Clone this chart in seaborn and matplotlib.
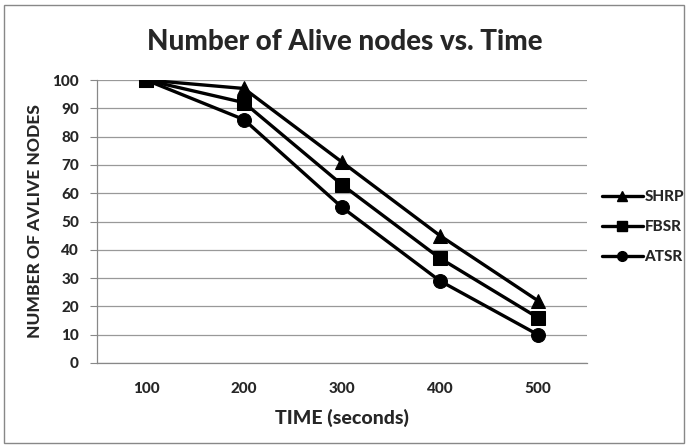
import matplotlib
matplotlib.use("Agg")
import matplotlib.pyplot as plt
import seaborn as sns
import pandas as pd
from matplotlib.patches import Rectangle
from matplotlib.lines import Line2D

times = ["100", "200", "300", "400", "500"]
shrp = [100, 97, 71, 45, 22]
fbsr = [100, 92, 63, 37, 16]
atsr = [100, 86, 55, 29, 10]
series_names = ["SHRP", "FBSR", "ATSR"]
yticks = list(range(0, 101, 10))

df = pd.concat([
    pd.DataFrame({"time": times, "nodes": v, "series": n})
    for n, v in zip(series_names, [shrp, fbsr, atsr])
])

sns.set_style("white")
plt.rcParams["font.family"] = ["Lato", "DejaVu Sans"]
W = 900
plt.rcParams["font.weight"] = W

fig = plt.figure(figsize=(6.89, 4.48), dpi=100)
ax = fig.add_axes([97/689, 1-363/448, 490/689, 283/448])

markers = {"SHRP": "^", "FBSR": "s", "ATSR": "o"}
sns.lineplot(data=df, x="time", y="nodes", style="series", markers=markers,
             dashes=False, color="black", linewidth=2.4, markersize=10,
             markeredgecolor="black", ax=ax, legend=False, sort=False)

ax.set_ylim(0, 100)
ax.set_xlim(-0.5, 4.5)
ax.set_yticks(yticks)
ax.set_yticklabels([str(t) for t in yticks], fontsize=11, fontweight=W)
ax.set_xticks(range(len(times)))
ax.set_xticklabels(times, fontsize=11, fontweight=W)
ax.tick_params(axis="x", which="major", length=0, pad=14)
ax.set_xticks([i - 0.5 for i in range(len(times) + 1)], minor=True)
ax.tick_params(axis="x", which="minor", length=5, color="#888888", direction="out")
ax.tick_params(axis="y", length=5, color="#888888", direction="out", pad=8, left=True)
ax.yaxis.grid(True, color="#999999", linewidth=0.9)
ax.set_axisbelow(True)
for s in ["top", "right"]:
    ax.spines[s].set_visible(False)
for s in ["left", "bottom"]:
    ax.spines[s].set_color("#888888")
    ax.spines[s].set_linewidth(0.9)

ax.set_xlabel("TIME (seconds)", fontsize=14, fontweight=W, labelpad=9)
ax.set_ylabel("NUMBER OF AVLIVE NODES", fontsize=12.5, fontweight=W, labelpad=7)

fig.text(0.5, 1-42/448, "Number of Alive nodes vs. Time", ha="center", va="center",
         fontsize=20, fontweight=W)

handles = [Line2D([], [], color="black", linewidth=2.4, marker=markers[n],
                  markersize=7) for n in series_names]
fig.legend(handles, series_names, loc="center left", bbox_to_anchor=(588/689, 1-227/448),
           frameon=False, handlelength=2.7, handletextpad=0.1, labelspacing=1.05,
           prop={"size": 11, "weight": W})

fig.patches.append(Rectangle((4/689, 5/448), 680/689, 438/448, transform=fig.transFigure,
                             fill=False, edgecolor="#888888", linewidth=1))

fig.savefig("out.png", dpi=100)
